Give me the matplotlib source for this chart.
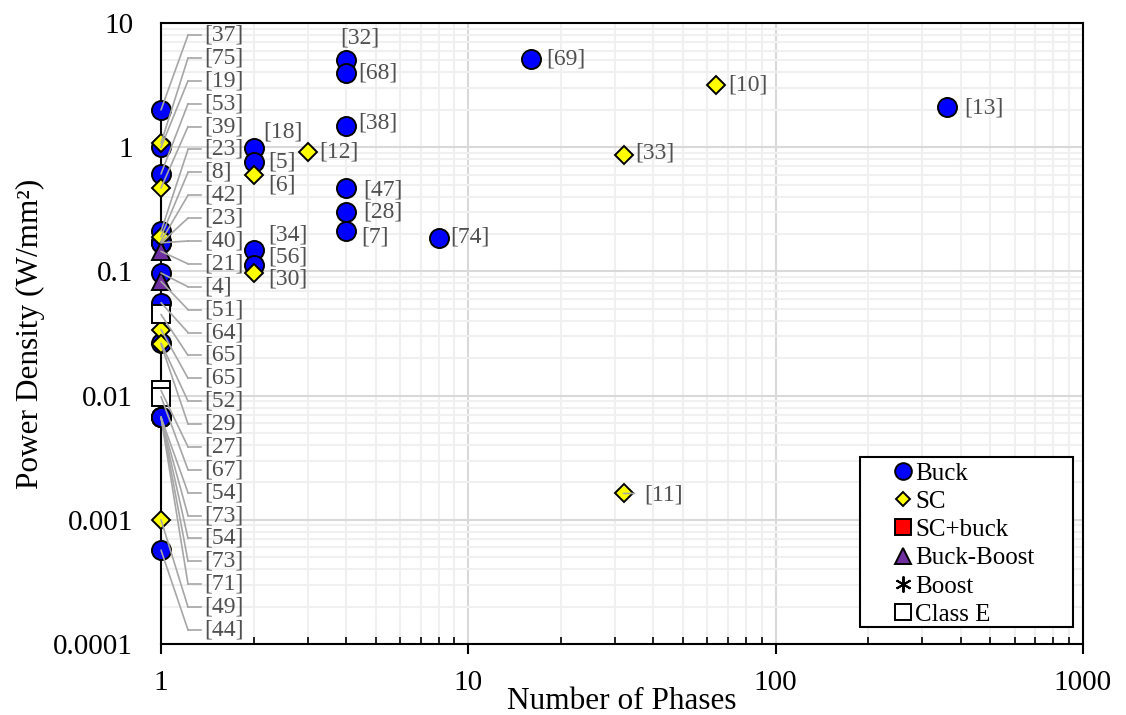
"""Power density vs number of phases for published on-chip converters."""
import numpy as np
import matplotlib
matplotlib.use("Agg")
import matplotlib.pyplot as plt
from matplotlib.lines import Line2D
from matplotlib.patches import Rectangle
from matplotlib.ticker import LogLocator, FuncFormatter, NullFormatter

plt.rcParams["font.family"] = ["Liberation Serif", "DejaVu Serif"]

# --- data ---------------------------------------------------------------
# single-phase designs (x = 1), listed in label order, top to bottom
col_refs = ["[37]", "[75]", "[19]", "[53]", "[39]", "[23]", "[8]", "[42]",
            "[23]", "[40]", "[21]", "[4]", "[51]", "[64]", "[65]", "[65]",
            "[52]", "[29]", "[27]", "[67]", "[54]", "[73]", "[54]", "[73]",
            "[71]", "[49]", "[44]"]
col_kind = ["Buck", "SC", "Buck", "Buck", "SC", "Buck", "SC", "Buck",
            "Buck", "Buck", "Buck-Boost", "Buck", "Buck-Boost", "Buck",
            "Class E", "SC", "Buck", "SC", "Class E", "Class E", "Buck",
            "Buck", "Buck", "Buck", "Buck", "SC", "Buck"]
col_vals = [2.0, 1.08, 1.0, 0.61, 0.47, 0.21, 0.19, 0.175,
            0.17, 0.17, 0.145, 0.097, 0.083, 0.056,
            0.045, 0.034, 0.0265, 0.026, 0.011, 0.0098, 0.0067,
            0.0067, 0.0067, 0.0067, 0.0067, 0.001, 0.00057]

# multi-phase designs
buck_x = [2, 2, 2, 2, 4, 4, 4, 4, 4, 4, 8, 16, 360]
buck_y = [0.98, 0.76, 0.149, 0.113, 5.03, 3.98, 1.49, 0.47, 0.30, 0.213,
          0.185, 5.1, 2.1]
buck_ref = ["[18]", "[5]", "[34]", "[56]", "[32]", "[68]", "[38]", "[47]",
            "[28]", "[7]", "[74]", "[69]", "[13]"]

sc_x = [2, 2, 3, 32, 64, 32]
sc_y = [0.60, 0.097, 0.91, 0.86, 3.16, 0.00163]
sc_ref = ["[6]", "[30]", "[12]", "[33]", "[10]", "[11]"]

kinds = ["Buck", "SC", "SC+buck", "Buck-Boost", "Boost", "Class E"]

# label offsets (pixels) for the multi-phase points
buck_off = [(10, -16), (15, 0), (15, -15), (15, -8), (-6, -22), (12, 0),
            (12, -3), (17, 2), (17, 0), (15, 6), (12, -1), (15, 0), (18, 1)]
sc_off = [(15, 10), (15, 6), (12, 0), (12, -2), (12, 0), (21, 2)]

# --- styles -------------------------------------------------------------
EDGE = "black"
style = {
    "Buck": dict(marker="o", mfc="#0000FF", ms=13.7),
    "SC": dict(marker="D", mfc="#FFFF00", ms=9.5),
    "SC+buck": dict(marker="s", mfc="#FF0000", ms=12.5),
    "Buck-Boost": dict(marker="^", mfc="#7030A0", ms=13.5),
    "Boost": dict(marker=(6, 2, 0), mfc="black", ms=12.5),
    "Class E": dict(marker="s", mfc="white", ms=12.5),
}
legend_ms = {"Buck": 12, "SC": 7.5, "SC+buck": 11.5, "Buck-Boost": 12,
             "Boost": 11.5, "Class E": 11.5}
LABEL_C = "#505050"
LEADER_C = "#a6a6a6"

fig = plt.figure(figsize=(11.26, 7.15), dpi=100)
ax = fig.add_axes([0.143, 0.0993, 0.8188, 0.8685])
ax.set_xscale("log")
ax.set_yscale("log")
ax.set_xlim(1, 1000)
ax.set_ylim(1e-4, 10)

# grid
ax.set_axisbelow(True)
ax.xaxis.set_minor_locator(LogLocator(base=10, subs=np.arange(2, 10)))
ax.yaxis.set_minor_locator(LogLocator(base=10, subs=np.arange(2, 10)))
ax.grid(which="minor", color="#f0f0f0", lw=1.5)
ax.grid(which="major", color="#d9d9d9", lw=1.5)

# points
all_x = {"Buck": list(buck_x), "SC": list(sc_x)}
all_y = {"Buck": list(buck_y), "SC": list(sc_y)}
for k, v in zip(col_kind, col_vals):
    all_x.setdefault(k, []).append(1)
    all_y.setdefault(k, []).append(v)

for k in kinds:
    if k not in all_x:
        continue
    st = style[k]
    ax.plot(all_x[k], all_y[k], ls="none", marker=st["marker"],
            ms=st["ms"], mfc=st["mfc"], mec=EDGE, mew=1.4,
            clip_on=False, zorder=3)

# labels for multi-phase points
for xs, ys, refs, offs in [(buck_x, buck_y, buck_ref, buck_off),
                           (sc_x, sc_y, sc_ref, sc_off)]:
    for x, y, r, (dx, dy) in zip(xs, ys, refs, offs):
        ax.annotate(r, xy=(x, y), xytext=(dx, -dy),
                    textcoords="offset pixels", ha="left", va="center",
                    fontsize=17, color=LABEL_C, zorder=5)

# short leader for [11]
i11 = sc_ref.index("[11]")
ax.annotate("", xy=(sc_x[i11], sc_y[i11]), xytext=(11, 0),
            textcoords="offset pixels",
            arrowprops=dict(arrowstyle="-", color=LEADER_C, lw=1.2,
                            shrinkA=0, shrinkB=0), zorder=4)

# stacked labels for single-phase points
lab_y = np.linspace(0.9807, 0.0225, len(col_refs))
elbow_x, stub_x, text_x = 0.0293, 0.0434, 0.0466
for v, r, fy in zip(col_vals, col_refs, lab_y):
    ax.annotate("", xy=(1, v), xycoords="data", xytext=(elbow_x, fy),
                textcoords="axes fraction",
                arrowprops=dict(arrowstyle="-", color=LEADER_C, lw=1.2,
                                shrinkA=0, shrinkB=0), zorder=4)
    ax.plot([elbow_x, stub_x], [fy, fy], color=LEADER_C, lw=1.2,
            transform=ax.transAxes, zorder=4)
    ax.text(text_x, fy, r, transform=ax.transAxes, ha="left", va="center",
            fontsize=17, color=LABEL_C, zorder=5)

# axes styling
for s in ax.spines.values():
    s.set_color("black")
    s.set_linewidth(1.5)
    s.set_zorder(2.5)
fmt = FuncFormatter(lambda v, _: f"{v:g}")
ax.xaxis.set_major_formatter(fmt)
ax.yaxis.set_major_formatter(fmt)
ax.xaxis.set_minor_formatter(NullFormatter())
ax.yaxis.set_minor_formatter(NullFormatter())
ax.tick_params(axis="x", which="major", direction="out", length=7,
               width=1.5, labelsize=21, pad=12)
ax.tick_params(axis="x", which="minor", direction="in", length=5,
               width=1.2)
ax.tick_params(axis="y", which="both", length=0, labelsize=21, pad=20)

ax.set_xlabel("Number of Phases", fontsize=22.5)
ax.xaxis.set_label_coords(0.5, -0.092)
ax.xaxis.label.set_va("center")
ax.set_ylabel("Power Density (W/mm²)", fontsize=22.5)
ax.yaxis.set_label_coords(-0.142, 0.5)
ax.yaxis.label.set_va("center")

# legend
ax.add_patch(Rectangle((0.758, 0.0274), 0.231, 0.2738,
                       transform=ax.transAxes, facecolor="white",
                       edgecolor="black", lw=1.5, zorder=6))
handles = [Line2D([], [], ls="none", marker=style[k]["marker"],
                  ms=legend_ms[k], mfc=style[k]["mfc"], mec=EDGE, mew=1.4)
           for k in kinds]
leg = ax.legend(handles, kinds, loc="upper left",
                bbox_to_anchor=(0.791, 0.293), frameon=False,
                fontsize=18, handlelength=1.0, handletextpad=0.0,
                labelspacing=0.23, borderpad=0, borderaxespad=0)
leg.set_zorder(7)

fig.savefig("out.png", dpi=100)
